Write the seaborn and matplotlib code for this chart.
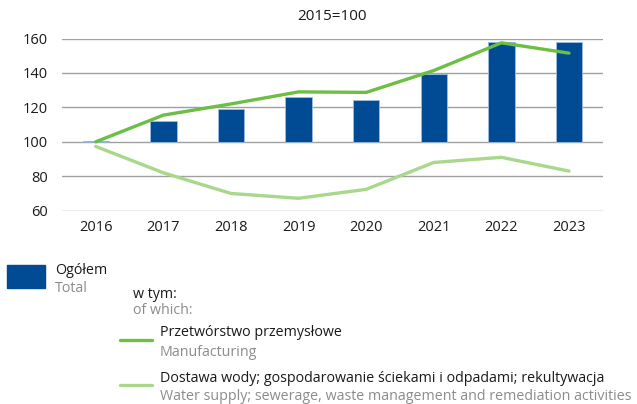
import numpy as np
import pandas as pd
import matplotlib
matplotlib.use("Agg")
import matplotlib.pyplot as plt
import seaborn as sns
from matplotlib.patches import Rectangle
from matplotlib.lines import Line2D

# ==============================
# DATA (2015=100)
# ==============================
years = ["2016", "2017", "2018", "2019", "2020", "2021", "2022", "2023"]
total = [100.5, 112.2, 119.0, 125.8, 124.3, 139.6, 158.0, 158.0]
manufacturing = [100.0, 115.5, 122.0, 129.0, 128.7, 141.4, 157.5, 151.5]
water_supply = [97.3, 82.0, 70.0, 67.2, 72.4, 88.0, 91.0, 83.0]
y_ticks = [60, 80, 100, 120, 140, 160]
BASE = 100  # bars grow from the 2015=100 baseline

BLUE = "#004b93"
GREEN = "#6cbe45"
LIGHT_GREEN = "#a9d78c"
GRAY_TXT = "#8c8c8c"
GRID = "#a0a0a0"
FS = 10.3

sns.set_theme(style="white")
plt.rcParams["font.family"] = ["Open Sans", "DejaVu Sans"]
plt.rcParams["text.color"] = "#1a1a1a"

df = pd.DataFrame({"year": years, "total": total,
                   "manuf": manufacturing, "water": water_supply})
df["total_rel"] = df["total"] - BASE

fig = plt.figure(figsize=(6.37, 4.04), dpi=100)
ax = fig.add_axes([0.0973, 0.4785, 0.849, 0.4262])

# ==============================
# BARS + LINES
# ==============================
sns.barplot(data=df, x="year", y="total_rel", bottom=BASE, color=BLUE, width=0.39,
            edgecolor="#9dbde0", linewidth=0.6, saturation=1, ax=ax, zorder=2)
sns.lineplot(data=df, x="year", y="manuf", color=GREEN, linewidth=2.4,
             ax=ax, zorder=3)
sns.lineplot(data=df, x="year", y="water", color=LIGHT_GREEN, linewidth=2.4,
             ax=ax, zorder=3)

ax.set_xlim(-0.5, len(years) - 0.5)
ax.set_ylim(60, 160)
ax.set_yticks(y_ticks)
ax.yaxis.grid(True, color=GRID, linewidth=1.0)
ax.set_axisbelow(True)
for s in ax.spines.values():
    s.set_visible(False)
ax.tick_params(axis="both", length=0, labelsize=10.5, colors="#1a1a1a")
ax.tick_params(axis="y", pad=10)
ax.tick_params(axis="x", pad=7)
ax.set_xlabel("")
ax.set_ylabel("")
ax.set_title("2015=100", fontsize=11, pad=13)

# ==============================
# LEGEND (manual layout)
# ==============================
fig.add_artist(Rectangle((7 / 637, 1 - 288 / 404), 38 / 637, 23 / 404,
                         transform=fig.transFigure, color=BLUE))
fig.text(55 / 637, 1 - 270 / 404, "Ogółem", fontsize=FS, va="center")
fig.text(55 / 637, 1 - 289 / 404, "Total", fontsize=FS, va="center", color=GRAY_TXT)

fig.text(133 / 637, 1 - 294 / 404, "w tym:", fontsize=FS, va="center")
fig.text(133 / 637, 1 - 311 / 404, "of which:", fontsize=FS, va="center", color=GRAY_TXT)

fig.add_artist(Line2D([120 / 637, 152 / 637], [1 - 340 / 404] * 2,
                      transform=fig.transFigure, color=GREEN, linewidth=2.4))
fig.text(160 / 637, 1 - 333 / 404, "Przetwórstwo przemysłowe", fontsize=FS, va="center")
fig.text(160 / 637, 1 - 352 / 404, "Manufacturing", fontsize=FS, va="center", color=GRAY_TXT)

fig.add_artist(Line2D([120 / 637, 152 / 637], [1 - 385 / 404] * 2,
                      transform=fig.transFigure, color=LIGHT_GREEN, linewidth=2.4))
fig.text(160 / 637, 1 - 379 / 404,
         "Dostawa wody; gospodarowanie ściekami i odpadami; rekultywacja",
         fontsize=FS, va="center")
fig.text(160 / 637, 1 - 397 / 404,
         "Water supply; sewerage, waste management and remediation activities",
         fontsize=FS, va="center", color=GRAY_TXT)

fig.savefig("out.png", dpi=100)
